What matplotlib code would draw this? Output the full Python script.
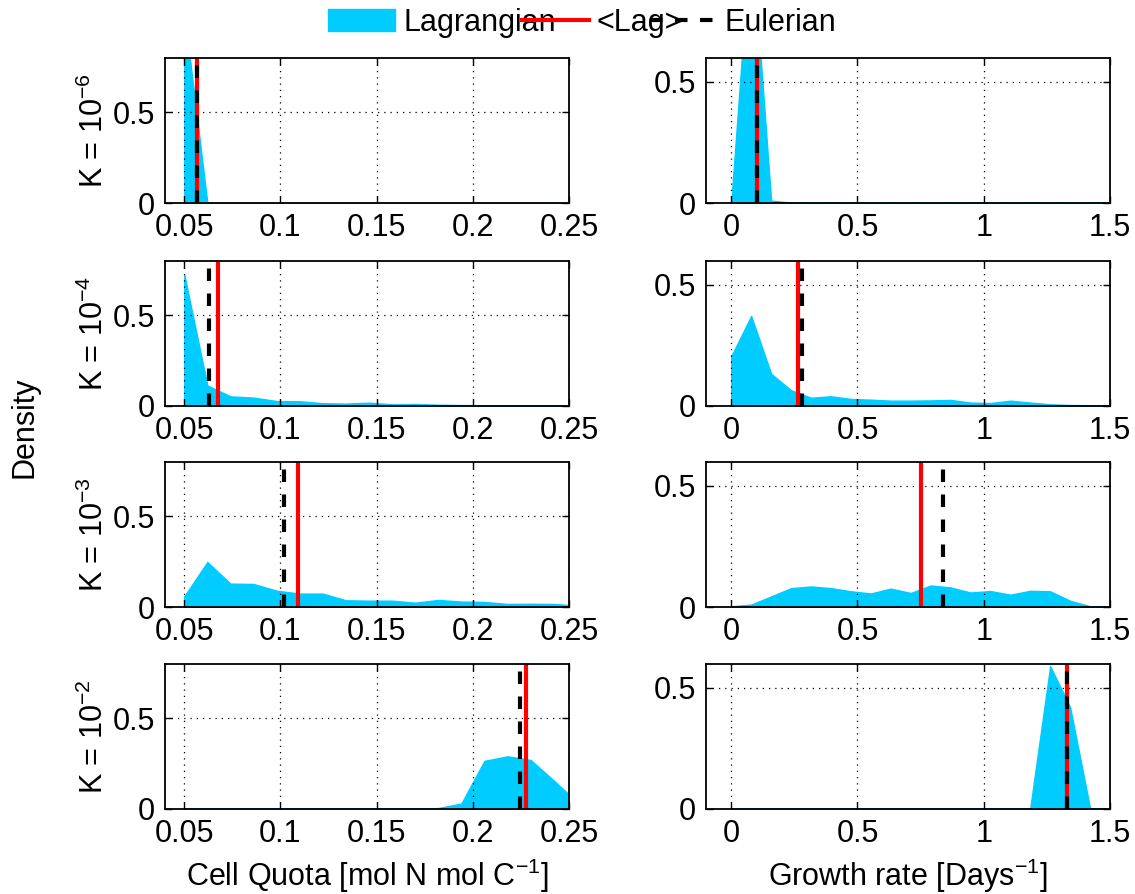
import matplotlib
matplotlib.use("Agg")
import matplotlib.pyplot as plt
from matplotlib.patches import Patch
from matplotlib.lines import Line2D

plt.rcParams['font.family'] = ['Liberation Sans', 'DejaVu Sans']
plt.rcParams['mathtext.fontset'] = 'custom'
plt.rcParams['mathtext.rm'] = 'Liberation Sans'
plt.rcParams['mathtext.it'] = 'Liberation Sans:italic'

# bin centres
quota_x = [0.05, 0.062, 0.074, 0.086, 0.098, 0.110, 0.122, 0.134, 0.146,
           0.158, 0.170, 0.182, 0.194, 0.206, 0.218, 0.230, 0.242, 0.254]
growth_x = [0.0, 0.079, 0.158, 0.237, 0.316, 0.395, 0.474, 0.553, 0.632, 0.711,
            0.789, 0.868, 0.947, 1.026, 1.105, 1.184, 1.263, 1.342, 1.421, 1.5]

k_labels = ['K = 10$^{-6}$', 'K = 10$^{-4}$', 'K = 10$^{-3}$', 'K = 10$^{-2}$']

# Lagrangian densities, cell quota
quota_k6 = [1.05, 0.0, 0, 0, 0, 0, 0, 0, 0, 0, 0, 0, 0, 0, 0, 0, 0, 0]
quota_k4 = [0.724, 0.113, 0.053, 0.046, 0.027, 0.026, 0.015, 0.013, 0.018,
            0.009, 0.011, 0.007, 0.005, 0.004, 0.003, 0.003, 0.002, 0.002]
quota_k3 = [0.059, 0.248, 0.129, 0.127, 0.09, 0.074, 0.074, 0.037, 0.035,
            0.035, 0.024, 0.039, 0.03, 0.028, 0.017, 0.018, 0.017, 0.008]
quota_k2 = [0.003, 0.003, 0.003, 0.003, 0.003, 0.003, 0.003, 0.003, 0.003,
            0.003, 0.003, 0.005, 0.03, 0.265, 0.29, 0.27, 0.157, 0.04]

# Lagrangian densities, growth rate
growth_k6 = [0.0, 1.13, 0.01, 0.002, 0.002, 0.002, 0.002, 0.002, 0.002, 0.002,
             0.002, 0.002, 0.002, 0.002, 0.002, 0.002, 0.002, 0.002, 0.002, 0.002]
growth_k4 = [0.205, 0.372, 0.133, 0.065, 0.034, 0.04, 0.029, 0.026, 0.022, 0.022,
             0.023, 0.025, 0.014, 0.012, 0.022, 0.014, 0.007, 0.004, 0.003, 0.003]
growth_k3 = [0.003, 0.01, 0.044, 0.078, 0.085, 0.078, 0.065, 0.056, 0.076, 0.058,
             0.089, 0.081, 0.06, 0.066, 0.051, 0.067, 0.065, 0.026, 0.003, 0.003]
growth_k2 = [0.003, 0.003, 0.003, 0.003, 0.003, 0.003, 0.003, 0.003, 0.003, 0.003,
             0.003, 0.003, 0.003, 0.003, 0.003, 0.003, 0.59, 0.42, 0.003, 0.003]

# <Lag> mean and Eulerian values
quota_lag = [0.0566, 0.0673, 0.109, 0.2276]
quota_eul = [0.0566, 0.0631, 0.1017, 0.2246]
growth_lag = [0.103, 0.263, 0.753, 1.329]
growth_eul = [0.103, 0.279, 0.837, 1.329]

quota_dens = [quota_k6, quota_k4, quota_k3, quota_k2]
growth_dens = [growth_k6, growth_k4, growth_k3, growth_k2]

cyan = '#00CCFF'
fs = 22

fig = plt.figure(figsize=(11.35, 8.94), dpi=100)

bottoms = [0.7729, 0.5459, 0.321, 0.0951]
height = 0.1625
left_x0 = 0.1454
right_x0 = 0.622
width = 0.356


def style_axes(ax):
    ax.tick_params(direction='in', length=5, width=1, labelsize=fs, pad=7,
                   top=True, right=True)
    ax.grid(True, linestyle=(0, (1, 4)), color='black', linewidth=0.9)
    for s in ax.spines.values():
        s.set_linewidth(1.3)


for i in range(4):
    # cell quota column
    ax = fig.add_axes([left_x0, bottoms[i], width, height])
    ax.fill_between(quota_x, quota_dens[i], 0, color=cyan, linewidth=1)
    ax.axvline(quota_lag[i], color='red', linewidth=3)
    ax.axvline(quota_eul[i], color='black', linewidth=3, linestyle=(0, (3, 3)))
    ax.set_xlim(0.04, 0.25)
    ax.set_ylim(0, 0.8)
    ax.set_xticks([0.05, 0.1, 0.15, 0.2, 0.25])
    ax.set_xticklabels(['0.05', '0.1', '0.15', '0.2', '0.25'])
    ax.set_yticks([0, 0.5])
    ax.set_yticklabels(['0', '0.5'])
    ax.set_ylabel(k_labels[i], fontsize=fs, labelpad=2)
    style_axes(ax)
    if i == 3:
        ax.set_xlabel('Cell Quota [mol N mol C$^{-1}$]', fontsize=fs, labelpad=6)

    # growth rate column
    ax = fig.add_axes([right_x0, bottoms[i], width, height])
    ax.fill_between(growth_x, growth_dens[i], 0, color=cyan, linewidth=1)
    ax.axvline(growth_lag[i], color='red', linewidth=3)
    ax.axvline(growth_eul[i], color='black', linewidth=3, linestyle=(0, (3, 3)))
    ax.set_xlim(-0.1, 1.5)
    ax.set_ylim(0, 0.6)
    ax.set_xticks([0, 0.5, 1, 1.5])
    ax.set_xticklabels(['0', '0.5', '1', '1.5'])
    ax.set_yticks([0, 0.5])
    ax.set_yticklabels(['0', '0.5'])
    style_axes(ax)
    if i == 3:
        ax.set_xlabel('Growth rate [Days$^{-1}$]', fontsize=fs, labelpad=6)

fig.text(0.022, 0.522, 'Density', rotation=90, fontsize=fs, ha='center', va='center')

handles = [Patch(facecolor=cyan, edgecolor=cyan),
           Line2D([], [], color='red', linewidth=3),
           Line2D([], [], color='black', linewidth=3, linestyle=(0, (3, 3)))]
fig.legend(handles, ['Lagrangian', '<Lag>', 'Eulerian'], loc='upper center',
           bbox_to_anchor=(0.513, 1.022), ncol=3, frameon=False, fontsize=fs,
           handlelength=2.2, handletextpad=0.25, columnspacing=-1.1)

fig.savefig('out.png', dpi=100)
